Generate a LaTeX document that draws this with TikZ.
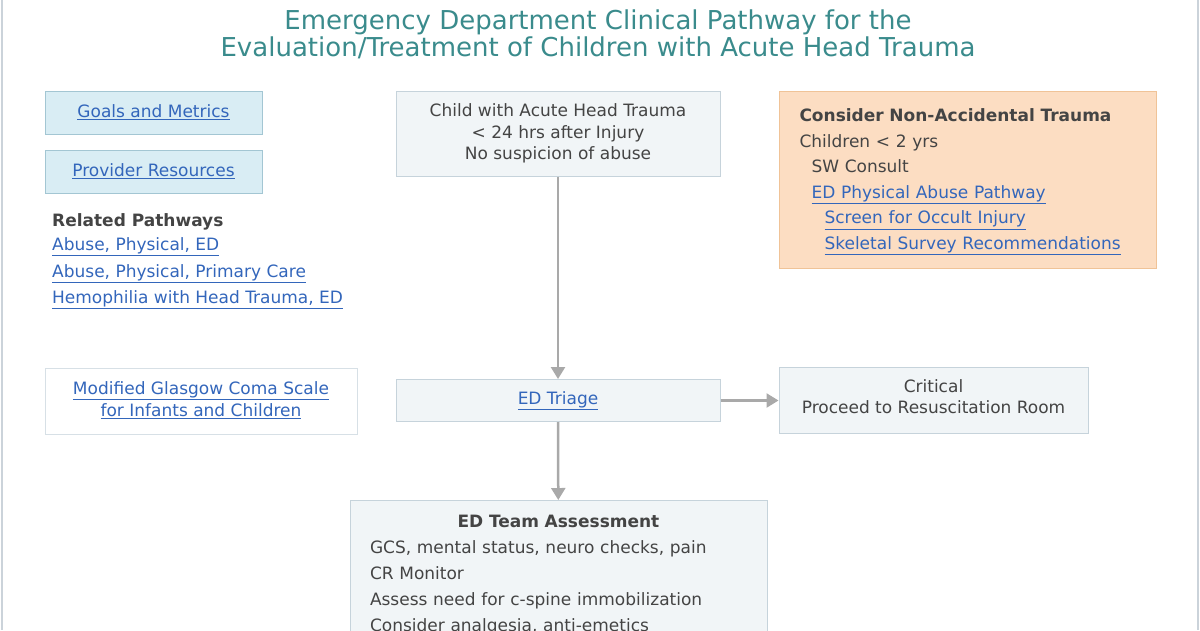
\documentclass[tikz,border=0pt]{standalone}
\usepackage{fontspec}
\setmainfont{DejaVu Sans}
\usetikzlibrary{arrows.meta,positioning}

\definecolor{titleteal}{HTML}{3A8B8C}
\definecolor{textgray}{HTML}{444444}
\definecolor{linkblue}{HTML}{3366BB}
\definecolor{goalfill}{HTML}{D9EDF4}
\definecolor{goalline}{HTML}{A3C6D3}
\definecolor{stepfill}{HTML}{F1F5F7}
\definecolor{stepline}{HTML}{C6D3DB}
\definecolor{natfill}{HTML}{FCDDC2}
\definecolor{natline}{HTML}{F0C397}
\definecolor{arrowgray}{HTML}{A9A9A9}
\definecolor{frameline}{HTML}{CBD3DA}

\newcommand{\lnk}[1]{\textcolor{linkblue}{\underline{#1}}}

\begin{document}
\begin{tikzpicture}[x=1pt,y=-1pt,
		font=\fontsize{17}{21.5}\selectfont, text=textgray,
		goalbox/.style={draw=goalline, fill=goalfill, line width=1pt,
			minimum width=217pt, minimum height=43pt, inner sep=0pt},
		stepbox/.style={draw=stepline, fill=stepfill, line width=1pt, inner sep=0pt, align=center},
		plainbox/.style={draw=stepline!70, fill=white, line width=1pt, inner sep=0pt, align=center},
		flow/.style={line width=2.5pt, arrowgray, -{Triangle[width=14pt,length=12pt]}}]
	
	\useasboundingbox (0,0) rectangle (1200,630);
	\clip (0,0) rectangle (1200,630);
	
	% frame
	\draw[frameline, line width=1.5pt] (2,0) -- (2,630);
	\draw[frameline, line width=1.5pt] (1198,0) -- (1198,630);
	
	% title
	\node[text=titleteal, align=center, font=\fontsize{26}{27}\selectfont] (title) at (598,34)
	{Emergency Department Clinical Pathway for the\\Evaluation/Treatment of Children with Acute Head Trauma};
	
	% left column
	\node[goalbox] (goals) at (153.5,112.5) {\lnk{Goals and Metrics}};
	\node[goalbox] (resources) at (153.5,171.5) {\lnk{Provider Resources}};
	
	\node[anchor=west, inner sep=0pt, font=\fontsize{17}{21}\selectfont\bfseries] (related) at (52,222) {Related Pathways};
	\node[anchor=west, inner sep=0pt] (rel1) at (52,247) {\lnk{Abuse, Physical, ED}};
	\node[anchor=west, inner sep=0pt] (rel2) at (52,273.5) {\lnk{Abuse, Physical, Primary Care}};
	\node[anchor=west, inner sep=0pt] (rel3) at (52,299.5) {\lnk{Hemophilia with Head Trauma, ED}};
	
	\node[plainbox, minimum width=312pt, minimum height=66pt] (gcs) at (201,401)
	{\lnk{Modified Glasgow Coma Scale}\\\lnk{for Infants and Children}\rule[-4pt]{0pt}{4pt}};
	
	% main flow
	\node[stepbox, minimum width=324pt, minimum height=85pt] (child) at (558,133.5)
	{Child with Acute Head Trauma\\{<} 24 hrs after Injury\\No suspicion of abuse};
	
	\node[stepbox, minimum width=324pt, minimum height=42pt] (triage) at (558,400.5)
	{\lnk{ED Triage}};
	
	\node[stepbox, minimum width=309pt, minimum height=66pt] (critical) at (933.5,400.5)
	{Critical\\Proceed to Resuscitation Room\rule[-8pt]{0pt}{8pt}};
	
	\node[stepbox, anchor=north, minimum width=417pt, minimum height=150pt,
	text width=377pt, align=left,
	font=\fontsize{17}{26}\selectfont] (team) at (558.5,500)
	{\makebox[\linewidth]{\bfseries ED Team Assessment}\\
		GCS, mental status, neuro checks, pain\\
		CR Monitor\\
		Assess need for c-spine immobilization\\
		Consider analgesia, anti-emetics};
	
	% non-accidental trauma
	\node[draw=natline, fill=natfill, line width=1pt, anchor=north west,
	minimum width=377pt, minimum height=177pt, text width=337pt, align=left,
	inner xsep=20pt, font=\fontsize{17}{25.5}\selectfont] (nat) at (779,91)
	{\rule{0pt}{17pt}\textbf{Consider Non-Accidental Trauma}\\
		Children {<} 2 yrs\\
		\hspace*{12pt}SW Consult\\
		\hspace*{12pt}\lnk{ED Physical Abuse Pathway}\\
		\hspace*{25pt}\lnk{Screen for Occult Injury}\\
		\hspace*{25pt}\lnk{Skeletal Survey Recommendations}};
	
	% arrows
	\draw[flow] (child) -- (triage);
	\draw[flow] (triage) -- (team);
	\draw[flow] (triage) -- (critical);
	
\end{tikzpicture}
\end{document}
